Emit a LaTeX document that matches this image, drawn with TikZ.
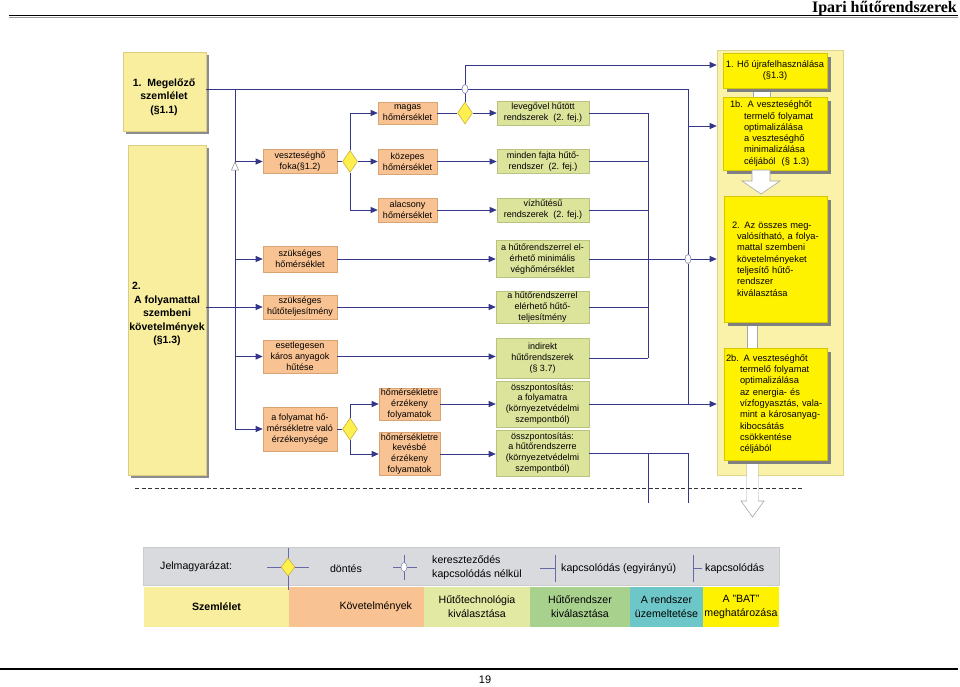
\documentclass[tikz,border=0pt]{standalone}
\usepackage{fontspec}
\setmainfont{Liberation Sans}
\newfontfamily\hdrfont{Liberation Serif}
\usetikzlibrary{arrows.meta,shapes.geometric,shadows}
\definecolor{navy}{HTML}{34368A}
\definecolor{orfill}{HTML}{F9C292}
\definecolor{ordraw}{HTML}{D9A474}
\definecolor{grfill}{HTML}{DCE49C}
\definecolor{grdraw}{HTML}{B9C27E}
\definecolor{lyfill}{HTML}{F8EE9E}
\definecolor{lydraw}{HTML}{D8CE86}
\definecolor{yefill}{HTML}{FFF200}
\definecolor{yedraw}{HTML}{D6C800}
\definecolor{panelfill}{HTML}{FAF2A8}
\definecolor{paneldraw}{HTML}{E0D68A}
\definecolor{dmfill}{HTML}{FFEF4F}
\definecolor{dmdraw}{HTML}{C9B13E}
\definecolor{legbg}{HTML}{D9DADD}
\definecolor{cgreen}{HTML}{A9D18E}
\definecolor{cteal}{HTML}{6DC7C8}
\definecolor{cltgreen}{HTML}{E2E9A3}
\newcommand\bxf{\fontsize{9}{10.8}\selectfont}
\newcommand\ybf{\fontsize{9.3}{11.3}\selectfont}
\newcommand\lgf{\fontsize{10.6}{14}\selectfont}
\newcommand\bdf{\fontsize{10.5}{13.5}\selectfont\bfseries}
\tikzset{
  ln/.style={draw=navy, line width=0.7pt},
  arr/.style={ln, -{Triangle[length=7pt,width=6pt]}},
  sz/.style 2 args={minimum width=#1pt, minimum height=#2pt},
  obox/.style={draw=ordraw, fill=orfill, line width=0.6pt, inner sep=1pt, align=center, font=\bxf},
  gbox/.style={draw=grdraw, fill=grfill, line width=0.6pt, inner sep=1pt, align=center, font=\bxf},
  lbox/.style={draw=lydraw, fill=lyfill, line width=0.6pt, inner sep=0pt, drop shadow={shadow xshift=3pt, shadow yshift=-3pt, fill=black!45, opacity=1}},
  ybox/.style={draw=yedraw, fill=yefill, line width=0.6pt, font=\ybf, drop shadow={shadow xshift=4pt, shadow yshift=-4pt, fill=black!50, opacity=1}},
  dmd/.style={diamond, draw=dmdraw, fill=dmfill, line width=0.6pt, inner sep=0pt, minimum width=15pt, minimum height=22pt},
  xing/.style={ellipse, draw=navy!70, fill=white, line width=0.5pt, inner sep=0pt, minimum width=6pt, minimum height=9pt},
  hollow/.style={draw=black!35, fill=white, line width=0.6pt},
  cell/.style={inner sep=0pt, align=center, font=\lgf, minimum height=40pt},
  sym/.style={draw=navy!75, line width=0.7pt},
}
\begin{document}
\begin{tikzpicture}[x=1pt,y=-1pt]
\useasboundingbox (0,0) rectangle (960,686);
\fill[white] (0,0) rectangle (960,686);

% header and footer
\node[font=\hdrfont\bfseries\fontsize{16}{18}\selectfont, anchor=base east, inner sep=0pt] (hdr) at (957,12.5) {Ipari hűtőrendszerek};
\draw[line width=1.3pt] (9,15.5) -- (958,15.5);
\draw[black!40, line width=0.5pt] (9,17) -- (958,17);
\draw[line width=1.5pt] (0,669) -- (958,669);
\node[font=\fontsize{11}{13}\selectfont] (pg) at (485,680) {19};

% right panel
\node[draw=paneldraw, fill=panelfill, line width=0.6pt, sz={126}{425}, inner sep=0pt] (panel) at (780,262.5) {};
\fill[hollow] (753,84) rectangle (770,100);
\fill[hollow] (747,318) rectangle (757,352);
\draw[hollow] (747,456) -- (747,501) -- (741,501) -- (752.5,517) -- (764,501) -- (758,501) -- (758,456);
\fill[white] (747.3,456) rectangle (757.7,501.5);

\node[ybox, sz={104}{35}, align=center, inner sep=1pt] (y1) at (775,70.5) {1. Hő újrafelhasználása\\(§1.3)};
\node[ybox, sz={104}{73}, align=left, inner xsep=7pt, text width=90pt] (y2) at (775,133.5) {1b. A veszteséghőt\\\hspace*{14pt}termelő folyamat\\\hspace*{14pt}optimalizálása\\\hspace*{14pt}a veszteséghő\\\hspace*{14pt}minimalizálása\\\hspace*{14pt}céljából \ (§ 1.3)};
\node[ybox, sz={103}{126}, align=left, inner xsep=8pt, text width=87pt] (y3) at (775.5,259) {2. Az összes meg-\\\hspace*{5pt}valósítható, a folya-\\\hspace*{5pt}mattal szembeni\\\hspace*{5pt}követelményeket\\\hspace*{5pt}teljesítő hűtő-\\\hspace*{5pt}rendszer\\\hspace*{5pt}kiválasztása};
\node[ybox, sz={103}{112}, align=left, inner xsep=2pt, text width=99pt] (y4) at (775.5,404) {2b. A veszteséghőt\\\hspace*{14pt}termelő folyamat\\\hspace*{14pt}optimalizálása\\\hspace*{14pt}az energia- és\\\hspace*{14pt}vízfogyasztás, vala-\\\hspace*{14pt}mint a károsanyag-\\\hspace*{14pt}kibocsátás\\\hspace*{14pt}csökkentése\\\hspace*{14pt}céljából};
\draw[hollow] (752,170) -- (770,170) -- (770,181) -- (780,181) -- (761,194) -- (742,181) -- (752,181) -- cycle;

% left boxes
\node[lbox, sz={83}{79}] (b1) at (164.5,91.5) {};
\node[font=\bdf, align=center, inner sep=0pt] (b1t) at (164,97) {1.\ \ Megelőző\\szemlélet\\(§1.1)};
\node[lbox, sz={78}{330}] (b2) at (167,310) {};
\node[font=\bdf, align=center, inner sep=0pt] (b2t) at (167,314) {\makebox[70pt][l]{2.}\\A folyamattal\\szembeni\\követelmények\\(§1.3)};

% orange boxes
\node[obox, sz={74}{24}] (o1) at (300,161.5) {veszteséghő\\foka(§1.2)};
\node[obox, sz={74}{26}] (o2) at (300,259) {szükséges\\hőmérséklet};
\node[obox, sz={74}{24}] (o3) at (300,307) {szükséges\\hűtőteljesítmény};
\node[obox, sz={74}{33}] (o4) at (300,356.5) {esetlegesen\\káros anyagok\\hűtése};
\node[obox, sz={74}{44}] (o5) at (300,429) {a folyamat hő-\\mérsékletre való\\érzékenysége};
\node[obox, sz={59}{22}] (o6) at (407.5,113) {magas\\hőmérséklet};
\node[obox, sz={59}{25}] (o7) at (407.5,161.5) {közepes\\hőmérséklet};
\node[obox, sz={59}{24}] (o8) at (407.5,210) {alacsony\\hőmérséklet};
\node[obox, sz={61}{32}] (o9) at (409.5,404) {hőmérsékletre\\érzékeny\\folyamatok};
\node[obox, sz={61}{38}] (o10) at (409.5,454) {hőmérsékletre\\kevésbé\\érzékeny\\folyamatok};

% green boxes
\node[gbox, sz={92}{24}] (g1) at (543,113) {levegővel hűtött\\rendszerek \ (2. fej.)};
\node[gbox, sz={92}{24}] (g2) at (543,161.5) {minden fajta hűtő-\\rendszer \ (2. fej.)};
\node[gbox, sz={92}{24}] (g3) at (543,210) {vízhűtésű\\rendszerek \ (2. fej.)};
\node[gbox, sz={93}{37}] (g4) at (542.5,259) {a hűtőrendszerrel el-\\érhető minimális\\véghőmérséklet};
\node[gbox, sz={93}{32}] (g5) at (542.5,307) {a hűtőrendszerrel\\elérhető hűtő-\\teljesítmény};
\node[gbox, sz={93}{40}] (g6) at (542.5,358) {indirekt\\hűtőrendszerek\\(§ 3.7)};
\node[gbox, sz={93}{46}] (g7) at (542.5,404) {összpontosítás:\\a folyamatra\\(környezetvédelmi\\szempontból)};
\node[gbox, sz={93}{46}] (g8) at (542.5,453) {összpontosítás:\\a hűtőrendszerre\\(környezetvédelmi\\szempontból)};

% diamonds and crossings
\node[dmd] (d1) at (350,161.5) {};
\node[dmd] (d2) at (465,113) {};
\node[dmd] (d3) at (350,429) {};

\coordinate (r89) at (688,89);
\coordinate (r126) at (688,126);
\coordinate (r405) at (688,404);
\coordinate (l89) at (235,89);
\coordinate (t65) at (465,65);
\coordinate (vA) at (648,0);
\coordinate (e1) at (648,503);
\coordinate (e2) at (688,503);

% connectors: left trunk
\draw[ln] (b1.east |- r89) -- (r89) -- (688,255);
\draw[ln] (688,263.5) -- (r405);
\draw[ln] (l89) -- (l89 |- o5);
\draw[ln] (b2.east |- o3) -- (l89 |- o3);
\draw[arr] (l89 |- o1) -- (o1.west);
\draw[arr] (l89 |- o2) -- (o2.west);
\draw[arr] (l89 |- o3) -- (o3.west);
\draw[arr] (l89 |- o4) -- (o4.west);
\draw[arr] (l89 |- o5) -- (o5.west);
\draw[draw=black!45, fill=white, line width=0.5pt] (231.5,170) -- (238.5,170) -- (235,162) -- cycle;

% temperature branch
\draw[ln] (o1.east) -- (d1.west);
\draw[arr] (d1.north) |- (o6.west);
\draw[arr] (d1.east) -- (o7.west);
\draw[arr] (d1.south) |- (o8.west);
\draw[ln] (o6.east) -- (d2.west);
\draw[arr] (d2.east) -- (g1.west);
\draw[arr] (o7.east) -- (g2.west);
\draw[arr] (o8.east) -- (g3.west);
\draw[arr] (d2.north) -- (t65) -- (panel.west |- t65);
\node[xing] (c1) at (465,89) {};

% requirement branches
\draw[arr] (o2.east) -- (o2.east -| g4.west);
\draw[arr] (o3.east) -- (o3.east -| g5.west);
\draw[arr] (o4.east) -- (o4.east -| g6.west);
\draw[ln] (o5.east) -- (d3.west);
\draw[arr] (d3.north) |- (o9.west);
\draw[arr] (d3.south) |- (o10.west);
\draw[arr] (o9.east) -- (o9.east -| g7.west);
\draw[arr] (o10.east) -- (o10.east -| g8.west);

% right collectors
\draw[ln] (g1.east) -- (vA |- g1) -- (vA |- g6);
\draw[ln] (g2.east) -- (vA |- g2);
\draw[ln] (g3.east) -- (vA |- g3);
\draw[ln] (g5.east) -- (vA |- g5);
\draw[ln] (g6.east) -- (vA |- g6);
\draw[arr] (g4.east) -- (panel.west |- g4);
\node[xing] (c2) at (688,259) {};
\draw[arr] (r126) -- (panel.west |- r126);
\draw[arr] (g7.east) -- (panel.west |- g7);
\draw[ln] (g8.east) -- (e2 |- g8) -- (e2);
\draw[ln] (e1 |- g8) -- (e1);

% dashed separator
\coordinate (da) at (135,488);
\coordinate (db) at (802,488);
\draw[black!80, line width=0.8pt, dash pattern=on 4pt off 2.5pt] (da) -- (db);

% legend
\node[fill=legbg, draw=black!20, line width=0.5pt, sz={636}{38}, inner sep=0pt] (leg) at (461,566) {};
\node[cell, fill=lyfill, minimum width=145pt, font=\lgf\bfseries] (cS) at (216.5,607) {Szemlélet};
\node[cell, fill=orfill, minimum width=135pt, text width=111pt, align=right, inner xsep=12pt] (cK) at (356.5,607) {Követelmények};
\node[cell, fill=cltgreen, minimum width=106pt] (cH) at (477,607) {Hűtőtechnológia\\kiválasztása};
\node[cell, fill=cgreen, minimum width=100pt] (cR) at (580,607) {Hűtőrendszer\\kiválasztása};
\node[cell, fill=cteal, minimum width=73pt] (cU) at (666.5,607) {A rendszer\\üzemeltetése};
\node[cell, fill=yefill, minimum width=76pt] (cB) at (741,607) {A "BAT"\\meghatározása};

\node[font=\lgf, anchor=west, inner sep=0pt] (lj) at (160,567) {Jelmagyarázat:};
\coordinate (ld1) at (267,567);
\coordinate (ld2) at (309,567);
\coordinate (ld3) at (288,548);
\coordinate (ld4) at (288,590);
\draw[sym] (ld1) -- (ld2);
\draw[sym] (ld3) -- (ld4);
\node[dmd, minimum width=14pt, minimum height=18pt] (ldm) at (288,567) {};
\node[font=\lgf, inner sep=0pt] (ldt) at (346,569) {döntés};
\coordinate (lx1) at (393,567);
\coordinate (lx2) at (417,567);
\coordinate (lx3) at (404,555);
\coordinate (lx4) at (404,580);
\draw[sym] (lx1) -- (lx2);
\draw[sym] (lx3) -- (lx4);
\node[xing, draw=navy!60] (lxc) at (404,567) {};
\node[font=\lgf, anchor=west, align=left, inner sep=0pt] (lxt) at (432,567.5) {kereszteződés\\kapcsolódás nélkül};
\coordinate (le1) at (540,568);
\coordinate (le2) at (555,568);
\coordinate (le3) at (555,555);
\coordinate (le4) at (555,582);
\draw[sym] (le1) -- (le2);
\draw[sym] (le3) -- (le4);
\node[font=\lgf, anchor=west, inner sep=0pt] (let) at (561,569) {kapcsolódás (egyirányú)};
\coordinate (lk1) at (693,555);
\coordinate (lk2) at (693,582);
\coordinate (lk3) at (702,568);
\draw[sym] (lk1) -- (lk2);
\draw[sym] (lk1 |- lk3) -- (lk3);
\node[font=\lgf, anchor=west, inner sep=0pt] (lkt) at (705,569) {kapcsolódás};
\end{tikzpicture}
\end{document}
